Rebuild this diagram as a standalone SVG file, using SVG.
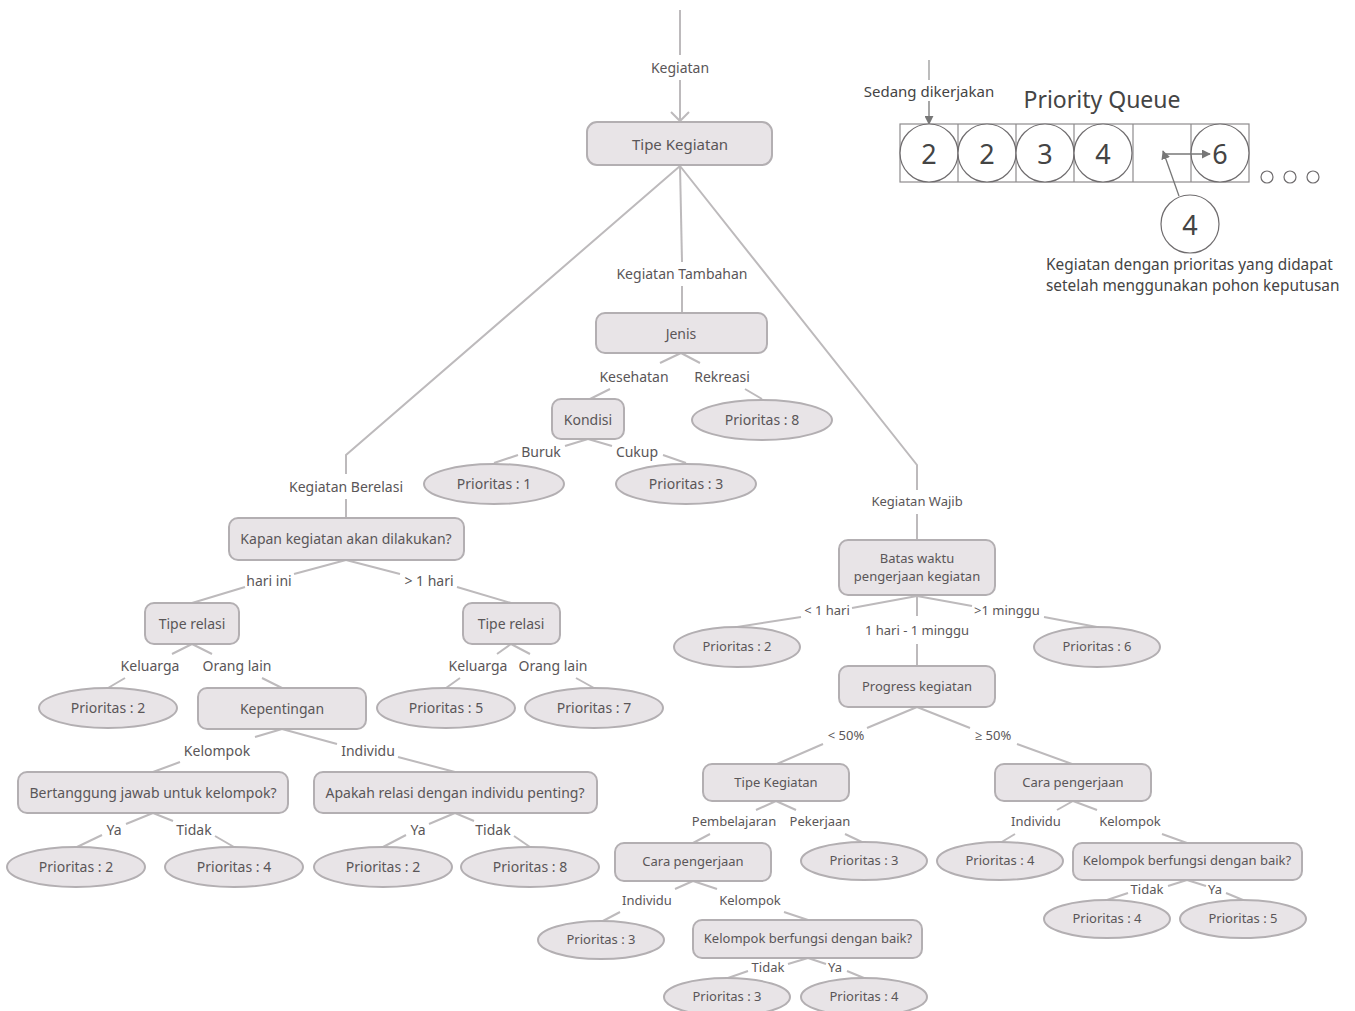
<svg xmlns="http://www.w3.org/2000/svg" width="1355" height="1011" viewBox="0 0 1355 1011">
<style>
.bg{fill:#ffffff}
.box{fill:#e8e4e7;stroke:#b3afb2;stroke-width:2}
.ell{fill:#e8e4e7;stroke:#b3afb2;stroke-width:2}
.ln{fill:none;stroke:#bdbabc;stroke-width:2}
.t{font-family:"Noto Sans","Open Sans","DejaVu Sans",sans-serif;fill:#5a5658;text-anchor:middle;dominant-baseline:central}
.s14{font-size:14px}
.s13{font-size:13px}
.s15{font-size:15px}
.q{fill:#fff;stroke:#8e8b8d;stroke-width:1.2}
.qc{fill:#fff;stroke:#6f6c6e;stroke-width:1.2}
.qn{font-family:"Noto Sans","Open Sans",sans-serif;font-size:27px;fill:#444;text-anchor:middle;dominant-baseline:central}
.qa{fill:none;stroke:#777;stroke-width:1.3}
</style>
<defs>
<marker id="open" viewBox="0 0 20 20" refX="10" refY="10" markerWidth="20" markerHeight="20" markerUnits="userSpaceOnUse" orient="auto">
<path d="M1,1 L10,10 L1,19" fill="none" stroke="#bdbabc" stroke-width="2"/>
</marker>
<marker id="arr" viewBox="0 0 10 10" refX="9" refY="5" markerWidth="9" markerHeight="9" markerUnits="userSpaceOnUse" orient="auto">
<path d="M0,0 L10,5 L0,10 Z" fill="#777"/>
</marker>
</defs>
<rect class="bg" x="0" y="0" width="1355" height="1011"/>

<g id="connectors">
<line class="ln" x1="680" y1="10" x2="680" y2="55"/>
<line class="ln" x1="680" y1="80" x2="680" y2="121" marker-end="url(#open)"/>
<polyline class="ln" points="680,166 346,455 346,474"/>
<line class="ln" x1="346" y1="499" x2="346" y2="518"/>
<line class="ln" x1="680" y1="166" x2="682" y2="262"/>
<line class="ln" x1="682" y1="286" x2="682" y2="313"/>
<polyline class="ln" points="680,166 917,465 917,490"/>
<line class="ln" x1="917" y1="514" x2="917" y2="540"/>

<line class="ln" x1="681" y1="353" x2="660" y2="363"/>
<line class="ln" x1="681" y1="353" x2="700" y2="363"/>
<line class="ln" x1="610" y1="389" x2="590" y2="399"/>
<line class="ln" x1="745" y1="389" x2="762" y2="399"/>
<line class="ln" x1="588" y1="439" x2="565" y2="446"/>
<line class="ln" x1="588" y1="439" x2="612" y2="446"/>
<line class="ln" x1="518" y1="455" x2="494" y2="463"/>
<line class="ln" x1="663" y1="455" x2="686" y2="463"/>

<line class="ln" x1="346" y1="560" x2="294" y2="574"/>
<line class="ln" x1="346" y1="560" x2="400" y2="574"/>
<line class="ln" x1="245" y1="587" x2="192" y2="603"/>
<line class="ln" x1="457" y1="587" x2="511" y2="603"/>

<line class="ln" x1="192" y1="644" x2="172" y2="654"/>
<line class="ln" x1="192" y1="644" x2="212" y2="654"/>
<line class="ln" x1="125" y1="678" x2="108" y2="688"/>
<line class="ln" x1="262" y1="678" x2="282" y2="688"/>

<line class="ln" x1="511" y1="644" x2="497" y2="654"/>
<line class="ln" x1="511" y1="644" x2="530" y2="654"/>
<line class="ln" x1="460" y1="678" x2="446" y2="688"/>
<line class="ln" x1="576" y1="678" x2="594" y2="688"/>

<line class="ln" x1="282" y1="729" x2="255" y2="737"/>
<line class="ln" x1="282" y1="729" x2="337" y2="744"/>
<line class="ln" x1="180" y1="762" x2="153" y2="772"/>
<line class="ln" x1="398" y1="757" x2="455" y2="772"/>

<line class="ln" x1="153" y1="813" x2="126" y2="824"/>
<line class="ln" x1="153" y1="813" x2="173" y2="821"/>
<line class="ln" x1="102" y1="835" x2="77" y2="847"/>
<line class="ln" x1="215" y1="836" x2="234" y2="847"/>

<line class="ln" x1="455" y1="813" x2="429" y2="824"/>
<line class="ln" x1="455" y1="813" x2="474" y2="821"/>
<line class="ln" x1="406" y1="835" x2="383" y2="847"/>
<line class="ln" x1="514" y1="836" x2="530" y2="847"/>

<line class="ln" x1="917" y1="596" x2="852" y2="608"/>
<line class="ln" x1="917" y1="596" x2="972" y2="606"/>
<line class="ln" x1="917" y1="596" x2="917" y2="616"/>
<line class="ln" x1="917" y1="644" x2="917" y2="666"/>
<line class="ln" x1="801" y1="617" x2="737" y2="627"/>
<line class="ln" x1="1044" y1="617" x2="1097" y2="627"/>

<line class="ln" x1="917" y1="707" x2="867" y2="728"/>
<line class="ln" x1="917" y1="707" x2="970" y2="728"/>
<line class="ln" x1="823" y1="744" x2="777" y2="764"/>
<line class="ln" x1="1017" y1="744" x2="1072" y2="764"/>

<line class="ln" x1="776" y1="801" x2="756" y2="810"/>
<line class="ln" x1="776" y1="801" x2="796" y2="810"/>
<line class="ln" x1="710" y1="834" x2="693" y2="843"/>
<line class="ln" x1="845" y1="834" x2="864" y2="843"/>

<line class="ln" x1="693" y1="881" x2="675" y2="889"/>
<line class="ln" x1="693" y1="881" x2="717" y2="889"/>
<line class="ln" x1="620" y1="912" x2="601" y2="922"/>
<line class="ln" x1="784" y1="912" x2="808" y2="920"/>

<line class="ln" x1="808" y1="958" x2="788" y2="964"/>
<line class="ln" x1="808" y1="958" x2="826" y2="964"/>
<line class="ln" x1="748" y1="971" x2="728" y2="978"/>
<line class="ln" x1="847" y1="971" x2="864" y2="978"/>

<line class="ln" x1="1073" y1="801" x2="1057" y2="810"/>
<line class="ln" x1="1073" y1="801" x2="1097" y2="810"/>
<line class="ln" x1="1015" y1="834" x2="1000" y2="843"/>
<line class="ln" x1="1162" y1="834" x2="1187" y2="843"/>

<line class="ln" x1="1187" y1="880" x2="1168" y2="886"/>
<line class="ln" x1="1187" y1="880" x2="1206" y2="886"/>
<line class="ln" x1="1128" y1="893" x2="1107" y2="900"/>
<line class="ln" x1="1226" y1="893" x2="1243" y2="900"/>
</g>

<g id="edge-labels">
<text class="t s14" x="680" y="67">Kegiatan</text>
<text class="t s14" x="346" y="486">Kegiatan Berelasi</text>
<text class="t s14" x="682" y="273">Kegiatan Tambahan</text>
<text class="t s13" x="917" y="501">Kegiatan Wajib</text>
<text class="t s14" x="634" y="376">Kesehatan</text>
<text class="t s14" x="722" y="376">Rekreasi</text>
<text class="t s14" x="541" y="451">Buruk</text>
<text class="t s14" x="637" y="451">Cukup</text>
<text class="t s14" x="269" y="580">hari ini</text>
<text class="t s14" x="429" y="580">&gt; 1 hari</text>
<text class="t s14" x="150" y="665">Keluarga</text>
<text class="t s14" x="237" y="665">Orang lain</text>
<text class="t s14" x="478" y="665">Keluarga</text>
<text class="t s14" x="553" y="665">Orang lain</text>
<text class="t s14" x="217" y="750">Kelompok</text>
<text class="t s14" x="368" y="750">Individu</text>
<text class="t s14" x="114" y="829">Ya</text>
<text class="t s14" x="194" y="829">Tidak</text>
<text class="t s14" x="418" y="829">Ya</text>
<text class="t s14" x="493" y="829">Tidak</text>
<text class="t s13" x="827" y="610">&lt; 1 hari</text>
<text class="t s13" x="917" y="630">1 hari - 1 minggu</text>
<text class="t s13" x="1007" y="610">&gt;1 minggu</text>
<text class="t s13" x="846" y="735">&lt; 50%</text>
<text class="t s13" x="993" y="735">≥ 50%</text>
<text class="t s13" x="734" y="821">Pembelajaran</text>
<text class="t s13" x="820" y="821">Pekerjaan</text>
<text class="t s13" x="647" y="900">Individu</text>
<text class="t s13" x="750" y="900">Kelompok</text>
<text class="t s13" x="768" y="967">Tidak</text>
<text class="t s13" x="835" y="967">Ya</text>
<text class="t s13" x="1036" y="821">Individu</text>
<text class="t s13" x="1130" y="821">Kelompok</text>
<text class="t s13" x="1147" y="889">Tidak</text>
<text class="t s13" x="1215" y="889">Ya</text>
</g>

<g id="n-tipe-kegiatan"><rect class="box" x="587" y="122" width="185" height="43" rx="10"/><text class="t s15" x="680" y="144">Tipe Kegiatan</text></g>
<g id="n-jenis"><rect class="box" x="596" y="313" width="171" height="40" rx="9"/><text class="t s14" x="681" y="333">Jenis</text></g>
<g id="n-kondisi"><rect class="box" x="552" y="399" width="72" height="40" rx="9"/><text class="t s14" x="588" y="419">Kondisi</text></g>
<g id="n-p8a"><ellipse class="ell" cx="762" cy="420" rx="70" ry="20"/><text class="t s14" x="762" y="419">Prioritas : 8</text></g>
<g id="n-p1"><ellipse class="ell" cx="494" cy="484" rx="70" ry="20"/><text class="t s14" x="494" y="483">Prioritas : 1</text></g>
<g id="n-p3a"><ellipse class="ell" cx="686" cy="484" rx="70" ry="20"/><text class="t s14" x="686" y="483">Prioritas : 3</text></g>

<g id="n-kapan"><rect class="box" x="229" y="518" width="235" height="42" rx="9"/><text class="t s14" x="346" y="538">Kapan kegiatan akan dilakukan?</text></g>
<g id="n-relasi1"><rect class="box" x="145" y="603" width="94" height="41" rx="9"/><text class="t s14" x="192" y="623">Tipe relasi</text></g>
<g id="n-relasi2"><rect class="box" x="463" y="603" width="97" height="41" rx="9"/><text class="t s14" x="511" y="623">Tipe relasi</text></g>
<g id="n-p2a"><ellipse class="ell" cx="108" cy="708" rx="69" ry="20"/><text class="t s14" x="108" y="707">Prioritas : 2</text></g>
<g id="n-kepentingan"><rect class="box" x="198" y="688" width="168" height="41" rx="9"/><text class="t s14" x="282" y="708">Kepentingan</text></g>
<g id="n-p5a"><ellipse class="ell" cx="446" cy="708" rx="69" ry="20"/><text class="t s14" x="446" y="707">Prioritas : 5</text></g>
<g id="n-p7"><ellipse class="ell" cx="594" cy="708" rx="69" ry="20"/><text class="t s14" x="594" y="707">Prioritas : 7</text></g>
<g id="n-bertanggung"><rect class="box" x="18" y="772" width="270" height="41" rx="9"/><text class="t s14" x="153" y="792">Bertanggung jawab untuk kelompok?</text></g>
<g id="n-apakah"><rect class="box" x="314" y="772" width="283" height="41" rx="9"/><text class="t s14" x="455" y="792">Apakah relasi dengan individu penting?</text></g>
<g id="n-p2b"><ellipse class="ell" cx="76" cy="867" rx="69" ry="20"/><text class="t s14" x="76" y="866">Prioritas : 2</text></g>
<g id="n-p4a"><ellipse class="ell" cx="234" cy="867" rx="69" ry="20"/><text class="t s14" x="234" y="866">Prioritas : 4</text></g>
<g id="n-p2c"><ellipse class="ell" cx="383" cy="867" rx="69" ry="20"/><text class="t s14" x="383" y="866">Prioritas : 2</text></g>
<g id="n-p8b"><ellipse class="ell" cx="530" cy="867" rx="69" ry="20"/><text class="t s14" x="530" y="866">Prioritas : 8</text></g>

<g id="n-batas"><rect class="box" x="839" y="540" width="156" height="55" rx="9"/><text class="t s13" x="917" y="558">Batas waktu</text><text class="t s13" x="917" y="576">pengerjaan kegiatan</text></g>
<g id="n-p2d"><ellipse class="ell" cx="737" cy="647" rx="63" ry="20"/><text class="t s13" x="737" y="646">Prioritas : 2</text></g>
<g id="n-p6"><ellipse class="ell" cx="1097" cy="647" rx="63" ry="20"/><text class="t s13" x="1097" y="646">Prioritas : 6</text></g>
<g id="n-progress"><rect class="box" x="839" y="666" width="156" height="41" rx="9"/><text class="t s13" x="917" y="686">Progress kegiatan</text></g>
<g id="n-tipe2"><rect class="box" x="703" y="764" width="146" height="37" rx="9"/><text class="t s13" x="776" y="782">Tipe Kegiatan</text></g>
<g id="n-cara1"><rect class="box" x="995" y="764" width="156" height="37" rx="9"/><text class="t s13" x="1073" y="782">Cara pengerjaan</text></g>
<g id="n-cara2"><rect class="box" x="615" y="843" width="156" height="38" rx="9"/><text class="t s13" x="693" y="861">Cara pengerjaan</text></g>
<g id="n-p3b"><ellipse class="ell" cx="864" cy="861" rx="63" ry="19"/><text class="t s13" x="864" y="860">Prioritas : 3</text></g>
<g id="n-p3c"><ellipse class="ell" cx="601" cy="940" rx="63" ry="19"/><text class="t s13" x="601" y="939">Prioritas : 3</text></g>
<g id="n-kel1"><rect class="box" x="693" y="920" width="229" height="38" rx="9"/><text class="t s13" x="808" y="938">Kelompok berfungsi dengan baik?</text></g>
<g id="n-p3d"><ellipse class="ell" cx="727" cy="997" rx="63" ry="19"/><text class="t s13" x="727" y="996">Prioritas : 3</text></g>
<g id="n-p4b"><ellipse class="ell" cx="864" cy="997" rx="63" ry="19"/><text class="t s13" x="864" y="996">Prioritas : 4</text></g>
<g id="n-p4c"><ellipse class="ell" cx="1000" cy="861" rx="63" ry="19"/><text class="t s13" x="1000" y="860">Prioritas : 4</text></g>
<g id="n-kel2"><rect class="box" x="1073" y="843" width="229" height="37" rx="9"/><text class="t s13" x="1187" y="860">Kelompok berfungsi dengan baik?</text></g>
<g id="n-p4d"><ellipse class="ell" cx="1107" cy="919" rx="63" ry="19"/><text class="t s13" x="1107" y="918">Prioritas : 4</text></g>
<g id="n-p5b"><ellipse class="ell" cx="1243" cy="919" rx="63" ry="19"/><text class="t s13" x="1243" y="918">Prioritas : 5</text></g>

<g id="priority-queue">
<text class="t" style="font-size:23px;fill:#444" x="1102" y="99">Priority Queue</text>
<text class="t s15" style="fill:#444" x="929" y="91">Sedang dikerjakan</text>
<line x1="929" y1="60" x2="929" y2="80" stroke="#999" stroke-width="1.3"/>
<line class="qa" x1="929" y1="101" x2="929" y2="124" marker-end="url(#arr)"/>
<rect class="q" x="900" y="124" width="349" height="58"/>
<line class="q" x1="958" y1="124" x2="958" y2="182"/>
<line class="q" x1="1016" y1="124" x2="1016" y2="182"/>
<line class="q" x1="1074" y1="124" x2="1074" y2="182"/>
<line class="q" x1="1133" y1="124" x2="1133" y2="182"/>
<line class="q" x1="1191" y1="124" x2="1191" y2="182"/>
<circle class="qc" cx="929" cy="153" r="29"/><text class="qn" x="929" y="153">2</text>
<circle class="qc" cx="987" cy="153" r="29"/><text class="qn" x="987" y="153">2</text>
<circle class="qc" cx="1045" cy="153" r="29"/><text class="qn" x="1045" y="153">3</text>
<circle class="qc" cx="1103" cy="153" r="29"/><text class="qn" x="1103" y="153">4</text>
<circle class="qc" cx="1220" cy="153" r="29"/><text class="qn" x="1220" y="153">6</text>
<line class="qa" x1="1166" y1="154" x2="1210" y2="154" marker-end="url(#arr)"/>
<circle class="qc" cx="1190" cy="224" r="29"/><text class="qn" x="1190" y="224">4</text>
<line class="qa" x1="1179" y1="196" x2="1163" y2="151" marker-end="url(#arr)"/>
<circle class="qc" cx="1267" cy="177" r="6"/>
<circle class="qc" cx="1290" cy="177" r="6"/>
<circle class="qc" cx="1313" cy="177" r="6"/>
<text class="t" style="font-size:15.4px;fill:#444;text-anchor:start" x="1046" y="264">Kegiatan dengan prioritas yang didapat</text>
<text class="t" style="font-size:15.4px;fill:#444;text-anchor:start" x="1046" y="285">setelah menggunakan pohon keputusan</text>
</g>
</svg>
